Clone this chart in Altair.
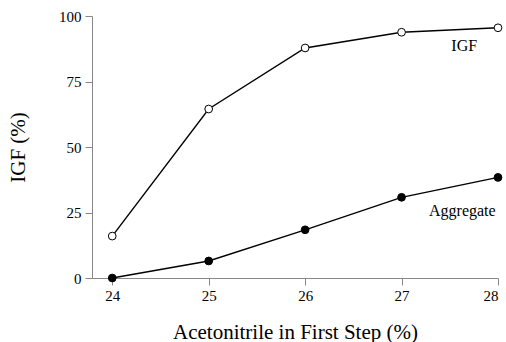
import altair as alt
import pandas as pd

acetonitrile = [24, 25, 26, 27, 28]
igf = [16.0, 64.5, 87.8, 93.8, 95.5]
aggregate = [0.0, 6.5, 18.4, 30.8, 38.4]

label_text = ["IGF", "Aggregate"]
label_x = [27.65, 27.63]
label_y = [88.5, 25.6]

df = pd.DataFrame({
    "x": acetonitrile * 2,
    "y": igf + aggregate,
    "series": ["IGF"] * 5 + ["Aggregate"] * 5,
})
lab = pd.DataFrame({"text": label_text, "x": label_x, "y": label_y})

FONT = "Liberation Serif"

xs = alt.Scale(domain=[23.79, 28], nice=False, zero=False)
ys = alt.Scale(domain=[0, 100], nice=False)

xenc = alt.X("x:Q", scale=xs, axis=alt.Axis(
    values=acetonitrile, format="d", title="Acetonitrile in First Step (%)", grid=False,
    domainColor="#888888", tickColor="#888888", tickSize=7, labelFontSize=15,
    labelFont=FONT, labelColor="black", titleFont=FONT, titleFontSize=21,
    titleFontWeight="normal", titleColor="black", titlePadding=18, labelPadding=3))
yenc = alt.Y("y:Q", scale=ys, axis=alt.Axis(
    values=[0, 25, 50, 75, 100], title="IGF (%)", grid=False,
    domainColor="#888888", tickColor="#888888", tickSize=7, labelFontSize=15,
    labelFont=FONT, labelColor="black", titleFont=FONT, titleFontSize=21,
    titleFontWeight="normal", titleColor="black", titlePadding=30, labelPadding=4))

base = alt.Chart(df)
lines = base.mark_line(color="black", strokeWidth=1.4).encode(
    x=xenc, y=yenc, detail="series:N")
pts = base.mark_point(filled=True, size=60, strokeWidth=1, opacity=1).encode(
    x="x:Q", y="y:Q",
    fill=alt.Fill("series:N", scale=alt.Scale(domain=["IGF", "Aggregate"], range=["white", "black"]), legend=None),
    stroke=alt.value("black"))
texts = alt.Chart(lab).mark_text(font=FONT, fontSize=16, color="black").encode(
    x="x:Q", y="y:Q", text="text:N")

chart = alt.layer(lines, pts, texts).properties(
    width=406, height=262,
    autosize=alt.AutoSizeParams(type="none"),
    padding={"left": 92, "top": 16, "right": 8, "bottom": 64},
).configure_view(stroke=None)

chart.save("out.html", embed_options={"renderer": "svg", "actions": False})
